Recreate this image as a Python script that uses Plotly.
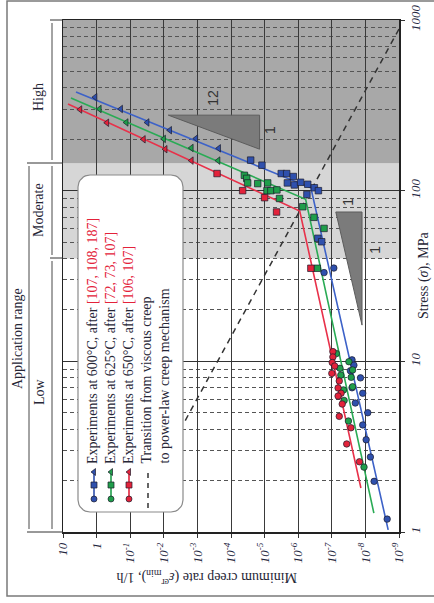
import math
import plotly.graph_objects as go

# ---------------- axis ticks ----------------
rate_ticks = [10, 1, 1e-1, 1e-2, 1e-3, 1e-4, 1e-5, 1e-6, 1e-7, 1e-8, 1e-9]
rate_tick_labels = ["10", "1", "10<sup>-1</sup>", "10<sup>-2</sup>", "10<sup>-3</sup>",
                    "10<sup>-4</sup>", "10<sup>-5</sup>", "10<sup>-6</sup>", "10<sup>-7</sup>",
                    "10<sup>-8</sup>", "10<sup>-9</sup>"]
stress_ticks = [1, 10, 100, 1000]
stress_tick_labels = ["1", "10", "100", "1000"]
stress_minor = [2, 3, 4, 5, 6, 7, 8, 9, 20, 30, 40, 50, 60, 70, 80, 90,
                200, 300, 400, 500, 600, 700, 800, 900]

# application ranges (MPa)
range_low_top = 40
range_moderate_top = 145
range_high_top = 1000

# ---------------- 600 °C ----------------
rate_600_high = [1.1, 0.19, 0.031, 6.6e-3, 1.1e-3, 2.3e-4]
stress_600_high = [353, 301, 251, 226, 202, 177]
rate_600_mod = [2.6e-5, 1.2e-5, 3.2e-6, 2.2e-6, 1.4e-6, 2.1e-6, 1.3e-6, 8.5e-7, 5.2e-7,
                3.3e-7, 2.5e-7, 5.5e-7, 2.6e-7, 2.0e-7]
stress_600_mod = [151, 141, 126, 126, 121, 111, 108, 112, 109, 104, 100, 95, 52.6, 50.2]
rate_600_low = [8.7e-8, 1.7e-7, 2.5e-8, 2.2e-8, 2.8e-8, 1.4e-8, 2.5e-8, 1.2e-8, 2.0e-8,
                8.5e-9, 1.2e-8, 9.5e-9, 7.1e-9, 5.5e-9, 2.25e-9]
stress_600_low = [35.2, 33.1, 10.2, 9.5, 8.8, 8.0, 7.0, 6.5, 5.7, 5.0, 4.24, 3.47, 2.75, 1.98, 1.19]
fit_600_rate = [4.1, 4.2e-7, 2.1e-9]
fit_600_stress = [378, 104, 1.03]

# ---------------- 625 °C ----------------
rate_625_high = [0.82, 0.13, 0.01, 1.5e-3, 2.4e-4]
stress_625_high = [301, 251, 201, 178, 150]
rate_625_mod = [4.0e-5, 3.4e-5, 3.2e-5, 1.6e-5, 8.1e-6, 8.5e-6, 6.5e-6, 4.3e-6, 3.6e-6,
                7.3e-7, 3.4e-7, 1.7e-7, 2.7e-7]
stress_625_mod = [123, 118, 111, 110, 111, 100, 100, 101, 90, 80.5, 69.8, 60.1, 35.1]
rate_625_low = [7.3e-8, 3.1e-8, 5.7e-8, 2.4e-8, 5.4e-8, 2.65e-8, 2.4e-8, 4.5e-8, 4.3e-8,
                3.2e-8, 1.1e-8]
stress_625_low = [11.1, 9.95, 9.1, 8.9, 8.3, 8.06, 7.1, 6.8, 5.9, 4.47, 2.4]
fit_625_rate = [5.8, 6.0e-7, 5.6e-9]
fit_625_stress = [349, 89, 1.29]

# ---------------- 650 °C ----------------
rate_650_high = [3.1, 0.49, 0.04, 9e-3, 1.5e-3]
stress_650_high = [299, 250, 200, 175, 150]
rate_650_mod = [2.6e-4, 4.5e-5, 1.0e-5, 4.4e-6, 4.2e-7]
stress_650_mod = [126, 100, 91, 75, 35.1]
rate_650_low = [9.3e-8, 9.3e-8, 9.7e-8, 8.2e-8, 1.0e-7, 6.0e-8, 6.5e-8, 5.3e-8, 6.5e-8,
                4.9e-8, 6.0e-8, 2.7e-8, 3.6e-8, 1.5e-8]
stress_650_low = [11.4, 10.6, 9.84, 9.38, 8.5, 7.67, 6.98, 6.5, 6.26, 5.62, 4.76, 4.08, 3.28, 2.58]
fit_650_rate = [7.1, 9.0e-7, 1.36e-8]
fit_650_stress = [322, 76, 1.81]

# transition viscous -> power-law creep
transition_rate = [2.3e-3, 9.3e-10]
transition_stress = [4.5, 909]

# slope triangles
tri_high_rate = [7.35e-3, 1.41e-5, 1.41e-5]
tri_high_stress = [277, 277, 175]
tri_low_rate = [7.6e-8, 1.26e-8, 1.26e-8]
tri_low_stress = [75, 75, 16.3]
slope_labels = ["12", "1", "1", "1"]
slope_label_rate = [3.3e-4, 6.6e-6, 3.3e-8, 5.2e-9]
slope_label_stress = [348, 226, 86, 45]

legend_labels = [
    'Experiments at 600°C, after <span style="color:#e3223a">[107, 108, 187]</span>',
    'Experiments at 625°C, after <span style="color:#e3223a">[72, 73, 107]</span>',
    'Experiments at 650°C, after <span style="color:#e3223a">[106, 107]</span>',
    'Transition from viscous creep',
    'to power-law creep mechanism',
]

# ---------------- styles ----------------
BLUE, GREEN, RED = "#2f50ad", "#1f9e4a", "#e3223a"
BLUE_L, GREEN_L, RED_L = "#3d62c8", "#2aab55", "#e8314a"
TXT = "#262636"
SERIF = "Liberation Serif, Times New Roman, serif"
W, H = 434, 603
L, R, T, B = 63, 35, 20, 71
PW, PH = W - L - R, H - T - B


def px_x(p):
    return (p - L) / PW


def px_y(p):
    return (H - B - p) / PH


fig = go.Figure()

# slope triangles
for tr, ts in [(tri_high_rate, tri_high_stress), (tri_low_rate, tri_low_stress)]:
    fig.add_trace(go.Scatter(x=tr + tr[:1], y=ts + ts[:1], mode="lines", fill="toself",
                             fillcolor="#7b7b7b", line=dict(color="#5c5c5c", width=1),
                             hoverinfo="skip"))

# transition line
fig.add_trace(go.Scatter(x=transition_rate, y=transition_stress, mode="lines",
                         line=dict(color="#333333", width=1.5, dash="6px,5px")))

series = [
    (BLUE, BLUE_L, fit_600_rate, fit_600_stress, rate_600_high, stress_600_high,
     rate_600_mod, stress_600_mod, rate_600_low, stress_600_low),
    (GREEN, GREEN_L, fit_625_rate, fit_625_stress, rate_625_high, stress_625_high,
     rate_625_mod, stress_625_mod, rate_625_low, stress_625_low),
    (RED, RED_L, fit_650_rate, fit_650_stress, rate_650_high, stress_650_high,
     rate_650_mod, stress_650_mod, rate_650_low, stress_650_low),
]
for col, coll, fr, fs, rh, sh, rm, sm, rl, sl in series:
    fig.add_trace(go.Scatter(x=fr, y=fs, mode="lines", line=dict(color=coll, width=1.6)))
for col, coll, fr, fs, rh, sh, rm, sm, rl, sl in series:
    for xs, ys, sym, size in [(rh, sh, "triangle-left", 6.5), (rm, sm, "square", 6.5),
                              (rl, sl, "circle", 6.5)]:
        fig.add_trace(go.Scatter(x=xs, y=ys, mode="markers",
                                 marker=dict(symbol=sym, size=size, color=col,
                                             line=dict(color="#1c1c2c", width=0.7))))

# legend box: white rounded rectangle on an overlay axis (0..1 over the plot area)
bx0, bx1, by0, by1, rad = 78, 183, 175, 512, 12
box_x, box_y = [], []
for cx, cy, a0 in [(bx1 - rad, by0 + rad, -90), (bx1 - rad, by1 - rad, 0),
                   (bx0 + rad, by1 - rad, 90), (bx0 + rad, by0 + rad, 180)]:
    for k in range(9):
        a = math.radians(a0 + k * 90 / 8)
        box_x.append(px_x(cx + rad * math.cos(a)))
        box_y.append(px_y(cy + rad * math.sin(a)))
box_x.append(box_x[0])
box_y.append(box_y[0])
fig.add_trace(go.Scatter(x=box_x, y=box_y, xaxis="x2", yaxis="y2", mode="lines",
                         fill="toself", fillcolor="white",
                         line=dict(color="#8a8a8a", width=1.2), hoverinfo="skip"))

# legend samples
legend_x_px = [94, 111, 129]
for col, lx in zip([BLUE, GREEN, RED], legend_x_px):
    fig.add_trace(go.Scatter(x=[px_x(lx)] * 3, y=[px_y(472), px_y(485), px_y(499)],
                             xaxis="x2", yaxis="y2", mode="lines+markers",
                             line=dict(color=col, width=1.6),
                             marker=dict(symbol=["triangle-left", "square", "circle"], size=6,
                                         color=col, line=dict(color="#1c1c2c", width=0.7))))
fig.add_trace(go.Scatter(x=[px_x(148)] * 2, y=[px_y(473), px_y(510)], xaxis="x2", yaxis="y2",
                         mode="lines", line=dict(color="#333333", width=1.5, dash="5px,5px")))

# dimension arrows (left of the plot): lines as shapes, heads as markers
dims = [(52, 20, 163), (52, 163, 258), (52, 258, 532), (29, 163, 532)]
head_x, head_y, head_sym = [], [], []
for xpx, ytop, ybot in dims:
    head_x += [px_x(xpx), px_x(xpx)]
    head_y += [px_y(ytop + 2.5), px_y(ybot - 2.5)]
    head_sym += ["triangle-up", "triangle-down"]
fig.add_trace(go.Scatter(x=head_x, y=head_y, xaxis="x2", yaxis="y2", mode="markers",
                         cliponaxis=False,
                         marker=dict(symbol=head_sym, size=5, color="#333", line=dict(width=0))))

shapes = []
# application-range backgrounds
shapes.append(dict(type="rect", xref="paper", yref="y", x0=0, x1=1, y0=range_low_top,
                   y1=range_moderate_top, fillcolor="#d6d6d6", line=dict(width=0), layer="below"))
shapes.append(dict(type="rect", xref="paper", yref="y", x0=0, x1=1, y0=range_moderate_top,
                   y1=range_high_top, fillcolor="#a8a8a8", line=dict(width=0), layer="below"))
# dimension extension lines
for ypx, xs in [(20, 50), (163, 27), (258, 50), (532, 27)]:
    shapes.append(dict(type="line", xref="paper", yref="paper", x0=px_x(xs), x1=0,
                       y0=px_y(ypx), y1=px_y(ypx), line=dict(color="#333", width=1)))
# dimension lines
for xpx, ytop, ybot in dims:
    shapes.append(dict(type="line", xref="paper", yref="paper", x0=px_x(xpx), x1=px_x(xpx),
                       y0=px_y(ybot - 3), y1=px_y(ytop + 3), line=dict(color="#333", width=0.9)))
# outer frame
shapes.append(dict(type="rect", xref="paper", yref="paper", x0=px_x(7), x1=px_x(445),
                   y0=px_y(596), y1=px_y(1), line=dict(color="#7a7a7a", width=1.5)))

ann = []
for txt, xpx, ypx in [("High", 38, 97), ("Moderate", 38, 210), ("Low", 39, 392),
                      ("Application range", 17, 338)]:
    ann.append(dict(xref="paper", yref="paper", x=px_x(xpx), y=px_y(ypx), text=txt,
                    textangle=-90, showarrow=False, xanchor="center", yanchor="middle",
                    font=dict(family=SERIF, size=14, color=TXT)))
# legend texts
for txt, xpx in zip(legend_labels, [92, 110, 128, 146, 164]):
    ann.append(dict(xref="paper", yref="paper", x=px_x(xpx), y=px_y(466), text=txt,
                    textangle=-90, showarrow=False, xanchor="center", yanchor="bottom",
                    font=dict(family=SERIF, size=14, color=TXT)))
# slope labels
for txt, r, s in zip(slope_labels, slope_label_rate, slope_label_stress):
    ann.append(dict(xref="x", yref="y", x=math.log10(r), y=math.log10(s), text=txt,
                    textangle=-90, showarrow=False,
                    font=dict(family="Liberation Sans, Arial", size=14, color="#333")))
# axis titles
ann.append(dict(xref="paper", yref="paper", x=px_x(207), y=px_y(578),
                text="Minimum creep rate (<i>ε̇</i><sup>cr</sup><sub>min</sub>), 1/h",
                textangle=180, showarrow=False, xanchor="center", yanchor="middle",
                font=dict(family=SERIF, size=14, color=TXT)))
ann.append(dict(xref="paper", yref="paper", x=px_x(424), y=px_y(276),
                text="Stress (<i>σ</i>), MPa", textangle=-90, showarrow=False,
                xanchor="center", yanchor="middle", font=dict(family=SERIF, size=14, color=TXT)))

fig.update_layout(
    width=W, height=H, margin=dict(l=L, r=R, t=T, b=B), paper_bgcolor="white",
    plot_bgcolor="white", showlegend=False, shapes=shapes, annotations=ann,
    hovermode=False,
    xaxis=dict(type="log", range=[1, -9], tickvals=rate_ticks,
               ticktext=[f"<i>{t}</i>" for t in rate_tick_labels], tickangle=-90,
               tickfont=dict(family=SERIF, size=13, color="#1e2640"), showgrid=True,
               gridcolor="#3a3a3a", gridwidth=1, showline=True, mirror=True, linecolor="#222",
               linewidth=1.5, ticks="outside", ticklen=4, tickcolor="#333", zeroline=False,
               automargin=False),
    yaxis=dict(type="log", range=[0, 3], side="right", tickvals=stress_ticks,
               ticktext=[f"<i>{t}</i>" for t in stress_tick_labels], tickangle=-90,
               tickfont=dict(family=SERIF, size=13, color="#1e2640"), showgrid=True,
               gridcolor="#333", gridwidth=1, showline=True, mirror=True, linecolor="#222",
               linewidth=1.5, ticks="outside", ticklen=4, tickcolor="#333", zeroline=False,
               automargin=False,
               minor=dict(tickvals=stress_minor, showgrid=True, gridcolor="#555",
                          griddash="4px,3px", gridwidth=1, ticks="")),
    xaxis2=dict(overlaying="x", range=[0, 1], visible=False, anchor="y2"),
    yaxis2=dict(overlaying="y", range=[0, 1], visible=False, anchor="x2"),
)

fig.write_html("out.html", config={"displayModeBar": False, "staticPlot": True},
               post_script="document.body.style.margin='0';document.body.style.overflow='hidden';")
